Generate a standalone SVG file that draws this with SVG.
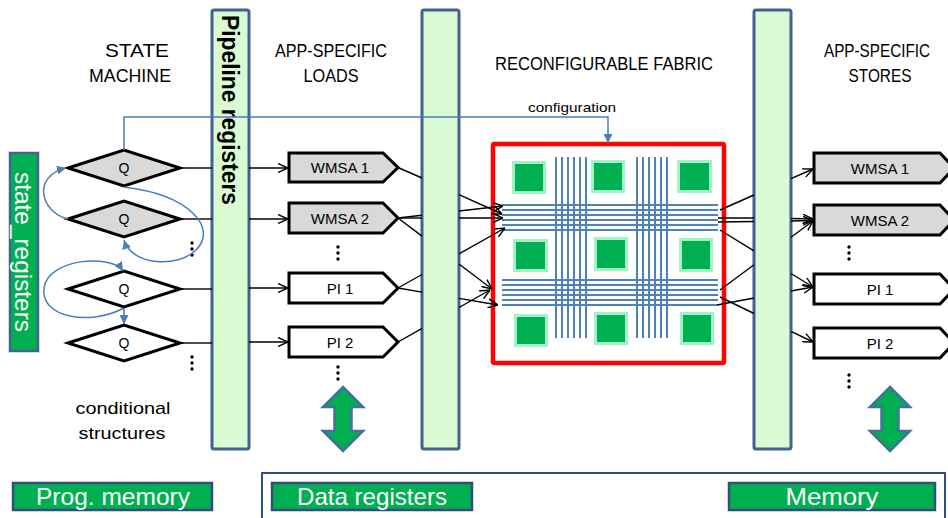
<svg xmlns="http://www.w3.org/2000/svg" width="948" height="518" viewBox="0 0 948 518">
  <style>
    text { font-family: "Liberation Sans", Arial, sans-serif; fill: #000; }
    .head { font-size: 18px; text-anchor: middle; }
    .lbl { font-size: 15px; text-anchor: middle; }
    .q { font-size: 14px; text-anchor: middle; }
    .bar { fill: #d9fad3; stroke: #41638f; stroke-width: 3; }
    .diam { stroke: #000; stroke-width: 3; stroke-linejoin: miter; }
    .gray { fill: #d9d9d9; }
    .white { fill: #fff; }
    .tag { stroke: #000; stroke-width: 3; stroke-linejoin: miter; }
    .wire { stroke: #000; stroke-width: 1.4; fill: none; }
    .warrow { stroke: #000; stroke-width: 1.4; fill: none; marker-end: url(#chev); }
    .blue { stroke: #4a7ebb; stroke-width: 1.5; fill: none; marker-end: url(#tri); }
    .grid line { stroke: #4f81bd; stroke-width: 2; }
    .cellO { fill: #9ff3c6; }
    .cellI { fill: #00b050; }
    .mem { fill: #00b050; stroke: #2f4f80; stroke-width: 2.5; }
    .memtxt { font-size: 24px; fill: #fff; text-anchor: middle; }
    .updown { fill: #00b050; stroke: #41719c; stroke-width: 2.5; stroke-linejoin: miter; }
    .dot { fill: #000; }
  </style>
  <defs>
    <marker id="chev" viewBox="0 0 10 10" refX="10" refY="5" markerWidth="10" markerHeight="10" markerUnits="userSpaceOnUse" orient="auto">
      <path d="M0,0.5 L10,5 L0,9.5" fill="none" stroke="#000" stroke-width="1.4"/>
    </marker>
    <marker id="tri" viewBox="0 0 10 10" refX="10" refY="5" markerWidth="9" markerHeight="9" markerUnits="userSpaceOnUse" orient="auto">
      <path d="M0,0 L10,5 L0,10 Z" fill="#4a7ebb"/>
    </marker>
    <path id="dblArrow" d="M0,-31 L20,-11 L8.5,-11 L8.5,13 L20,13 L0,33 L-20,13 L-8.5,13 L-8.5,-11 L-20,-11 Z"/>
  </defs>

  <!-- column headings -->
  <g id="headings">
    <text class="head" x="137" y="57" textLength="64" lengthAdjust="spacingAndGlyphs">STATE</text>
    <text class="head" x="130" y="82" textLength="82" lengthAdjust="spacingAndGlyphs">MACHINE</text>
    <text class="head" x="331" y="57" textLength="112" lengthAdjust="spacingAndGlyphs">APP-SPECIFIC</text>
    <text class="head" x="331" y="82" textLength="55" lengthAdjust="spacingAndGlyphs">LOADS</text>
    <text class="head" x="604" y="70" textLength="218" lengthAdjust="spacingAndGlyphs">RECONFIGURABLE FABRIC</text>
    <text class="head" x="877" y="57" textLength="106" lengthAdjust="spacingAndGlyphs">APP-SPECIFIC</text>
    <text class="head" x="880" y="82" textLength="63" lengthAdjust="spacingAndGlyphs">STORES</text>
    <text x="572" y="112" font-size="13" text-anchor="middle" textLength="88" lengthAdjust="spacingAndGlyphs">configuration</text>
    <text x="123" y="414" font-size="17" text-anchor="middle" textLength="95" lengthAdjust="spacingAndGlyphs">conditional</text>
    <text x="122" y="439" font-size="17" text-anchor="middle" textLength="87" lengthAdjust="spacingAndGlyphs">structures</text>
  </g>

  <!-- state register bank -->
  <g id="state_registers">
    <rect x="10" y="153" width="28" height="198" fill="#00b050" stroke="#41638f" stroke-width="2.5"/>
    <text transform="translate(15,172) rotate(90)" font-size="24" style="fill:#fff" textLength="160" lengthAdjust="spacingAndGlyphs">state_registers</text>
  </g>

  <!-- state machine: condition diamonds -->
  <g id="state1"><path class="diam gray" d="M68,168 L124,150 L180,168 L124,186 Z"/><text class="q" x="124" y="173">Q</text></g>
  <g id="state2"><path class="diam gray" d="M68,219 L124,201 L180,219 L124,237 Z"/><text class="q" x="124" y="224">Q</text></g>
  <g id="state3"><path class="diam white" d="M68,289 L124,271 L180,289 L124,307 Z"/><text class="q" x="124" y="294">Q</text></g>
  <g id="state4"><path class="diam white" d="M68,343 L124,325 L180,343 L124,361 Z"/><text class="q" x="124" y="348">Q</text></g>
  <g id="state_more">
    <circle class="dot" cx="192" cy="243" r="1.7"/><circle class="dot" cx="192" cy="249" r="1.7"/><circle class="dot" cx="192" cy="255" r="1.7"/>
    <circle class="dot" cx="192" cy="357" r="1.7"/><circle class="dot" cx="192" cy="363" r="1.7"/><circle class="dot" cx="192" cy="369" r="1.7"/>
  </g>

  <!-- reconfigurable fabric -->
  <g id="fabric">
    <rect x="493" y="144" width="231" height="219" fill="#fff" stroke="#ff0000" stroke-width="4.5" rx="1.5"/>
    <g class="grid">
      <line x1="556" y1="157" x2="556" y2="338"/><line x1="562" y1="157" x2="562" y2="338"/>
      <line x1="568" y1="157" x2="568" y2="338"/><line x1="574" y1="157" x2="574" y2="338"/>
      <line x1="580" y1="157" x2="580" y2="338"/><line x1="586" y1="157" x2="586" y2="338"/>
      <line x1="637" y1="157" x2="637" y2="338"/><line x1="643" y1="157" x2="643" y2="338"/>
      <line x1="649" y1="157" x2="649" y2="338"/><line x1="655" y1="157" x2="655" y2="338"/>
      <line x1="661" y1="157" x2="661" y2="338"/><line x1="667" y1="157" x2="667" y2="338"/>
      <line x1="502" y1="205" x2="718" y2="205"/><line x1="502" y1="210" x2="718" y2="210"/>
      <line x1="502" y1="215" x2="718" y2="215"/><line x1="502" y1="220" x2="718" y2="220"/>
      <line x1="502" y1="225" x2="718" y2="225"/><line x1="502" y1="230" x2="718" y2="230"/>
      <line x1="502" y1="280" x2="718" y2="280"/><line x1="502" y1="285" x2="718" y2="285"/>
      <line x1="502" y1="290" x2="718" y2="290"/><line x1="502" y1="295" x2="718" y2="295"/>
      <line x1="502" y1="300" x2="718" y2="300"/><line x1="502" y1="305" x2="718" y2="305"/>
    </g>
    <g id="cells">
      <rect class="cellO" x="512" y="161" width="34" height="33"/><rect class="cellI" x="515" y="164" width="28" height="27"/>
      <rect class="cellO" x="591" y="160" width="34" height="33"/><rect class="cellI" x="594" y="163" width="28" height="27"/>
      <rect class="cellO" x="677" y="160" width="35" height="33"/><rect class="cellI" x="680" y="163" width="29" height="27"/>
      <rect class="cellO" x="513" y="239" width="35" height="33"/><rect class="cellI" x="516" y="242" width="29" height="27"/>
      <rect class="cellO" x="594" y="237" width="34" height="34"/><rect class="cellI" x="597" y="240" width="28" height="28"/>
      <rect class="cellO" x="679" y="238" width="34" height="34"/><rect class="cellI" x="682" y="241" width="28" height="28"/>
      <rect class="cellO" x="514" y="314" width="34" height="33"/><rect class="cellI" x="517" y="317" width="28" height="27"/>
      <rect class="cellO" x="594" y="312" width="34" height="33"/><rect class="cellI" x="597" y="315" width="28" height="27"/>
      <rect class="cellO" x="680" y="312" width="34" height="33"/><rect class="cellI" x="683" y="315" width="28" height="27"/>
    </g>
  </g>

  <!-- pipeline register columns -->
  <g id="pipe1">
    <rect class="bar" x="212" y="10" width="37" height="439" rx="2"/>
    <text transform="translate(222,15) rotate(90)" font-size="23" font-weight="bold" textLength="190" lengthAdjust="spacingAndGlyphs">Pipeline registers</text>
  </g>
  <g id="pipe2"><rect class="bar" x="422" y="10" width="37" height="439" rx="2"/></g>
  <g id="pipe3"><rect class="bar" x="754" y="10" width="37" height="439" rx="2"/></g>

  <!-- app-specific loads -->
  <g id="load_wmsa1"><path class="tag gray" d="M289,153 H383 L398,167.5 L383,182 H289 Z"/><text class="lbl" x="340" y="173">WMSA 1</text></g>
  <g id="load_wmsa2"><path class="tag gray" d="M289,203 H383 L398,218 L383,233 H289 Z"/><text class="lbl" x="340" y="224">WMSA 2</text></g>
  <g id="load_pi1"><path class="tag white" d="M289,273 H383 L398,288 L383,303 H289 Z"/><text class="lbl" x="340" y="294">PI 1</text></g>
  <g id="load_pi2"><path class="tag white" d="M289,327 H383 L398,342 L383,357 H289 Z"/><text class="lbl" x="340" y="348">PI 2</text></g>
  <g id="load_more">
    <circle class="dot" cx="338" cy="247" r="1.7"/><circle class="dot" cx="338" cy="253" r="1.7"/><circle class="dot" cx="338" cy="259" r="1.7"/>
    <circle class="dot" cx="338" cy="367" r="1.7"/><circle class="dot" cx="338" cy="373" r="1.7"/><circle class="dot" cx="338" cy="379" r="1.7"/>
  </g>
  <g id="load_port"><use href="#dblArrow" class="updown" x="343" y="418"/></g>

  <!-- app-specific stores -->
  <g id="store_wmsa1"><path class="tag gray" d="M814,153 H940 L954,168 L940,183 H814 Z"/><text class="lbl" x="880" y="174">WMSA 1</text></g>
  <g id="store_wmsa2"><path class="tag gray" d="M814,205 H940 L954,220 L940,235 H814 Z"/><text class="lbl" x="880" y="226">WMSA 2</text></g>
  <g id="store_pi1"><path class="tag white" d="M814,274 H940 L954,289 L940,304 H814 Z"/><text class="lbl" x="880" y="295">PI 1</text></g>
  <g id="store_pi2"><path class="tag white" d="M814,328 H940 L954,343 L940,358 H814 Z"/><text class="lbl" x="880" y="349">PI 2</text></g>
  <g id="store_more">
    <circle class="dot" cx="849" cy="247" r="1.7"/><circle class="dot" cx="849" cy="253" r="1.7"/><circle class="dot" cx="849" cy="259" r="1.7"/>
    <circle class="dot" cx="849" cy="375" r="1.7"/><circle class="dot" cx="849" cy="381" r="1.7"/><circle class="dot" cx="849" cy="387" r="1.7"/>
  </g>
  <g id="store_port"><use href="#dblArrow" class="updown" x="890" y="418"/></g>

  <!-- memory hierarchy -->
  <g id="prog_memory"><rect class="mem" x="13" y="483" width="199" height="27"/><text class="memtxt" x="113" y="505" textLength="154" lengthAdjust="spacingAndGlyphs">Prog. memory</text></g>
  <g id="data_side"><path d="M262,518 V473 H945 V518" fill="none" stroke="#2f4f80" stroke-width="2"/></g>
  <g id="data_registers"><rect class="mem" x="272" y="483" width="200" height="27"/><text class="memtxt" x="372" y="505" textLength="150" lengthAdjust="spacingAndGlyphs">Data registers</text></g>
  <g id="memory"><rect class="mem" x="729" y="483" width="206" height="27"/><text class="memtxt" x="832" y="505" textLength="93" lengthAdjust="spacingAndGlyphs">Memory</text></g>

  <!-- connectors -->
  <g id="connectors">
    <!-- state outputs into the pipeline registers -->
    <line class="wire" x1="180" y1="168" x2="212" y2="168"/>
    <line class="wire" x1="180" y1="219" x2="212" y2="219"/>
    <line class="wire" x1="180" y1="289" x2="212" y2="289"/>
    <line class="wire" x1="180" y1="343" x2="212" y2="343"/>
    <!-- pipeline registers into loads -->
    <line class="warrow" x1="249" y1="168" x2="288" y2="168"/>
    <line class="warrow" x1="249" y1="219" x2="288" y2="219"/>
    <line class="warrow" x1="249" y1="288" x2="288" y2="288"/>
    <line class="warrow" x1="249" y1="342" x2="288" y2="342"/>
    <!-- loads through pipeline registers into the fabric -->
    <line class="wire" x1="398" y1="167.5" x2="422" y2="178"/><line class="warrow" x1="459" y1="194.6" x2="502" y2="214"/>
    <line class="wire" x1="398" y1="218" x2="422" y2="218"/><line class="warrow" x1="459" y1="218" x2="503" y2="218"/>
    <line class="wire" x1="398" y1="218" x2="422" y2="215.3"/><line class="warrow" x1="459" y1="211" x2="503" y2="206"/>
    <line class="wire" x1="398" y1="218" x2="422" y2="236.1"/><line class="warrow" x1="459" y1="264" x2="492" y2="289"/>
    <line class="wire" x1="398" y1="288" x2="422" y2="274.5"/><line class="warrow" x1="459" y1="253.8" x2="505" y2="228"/>
    <line class="wire" x1="398" y1="288" x2="422" y2="292.1"/><line class="warrow" x1="459" y1="298.4" x2="498" y2="305"/>
    <line class="wire" x1="398" y1="342" x2="422" y2="328.4"/><line class="warrow" x1="459" y1="307.5" x2="490" y2="290"/>
    <!-- fabric through pipeline registers into stores -->
    <line class="wire" x1="720" y1="210" x2="754" y2="195"/><line class="warrow" x1="791" y1="178.7" x2="813" y2="169"/>
    <line class="wire" x1="718" y1="218" x2="754" y2="218"/><line class="warrow" x1="791" y1="218.5" x2="813" y2="219"/>
    <line class="wire" x1="718" y1="222" x2="754" y2="221.5"/><line class="warrow" x1="791" y1="221" x2="813" y2="220.5"/>
    <line class="wire" x1="720" y1="230" x2="754" y2="250.8"/><line class="warrow" x1="791" y1="273.5" x2="813" y2="287"/>
    <line class="wire" x1="720" y1="290" x2="754" y2="264.8"/><line class="warrow" x1="791" y1="237.3" x2="813" y2="221"/>
    <line class="wire" x1="717" y1="305" x2="754" y2="298"/><line class="warrow" x1="791" y1="291" x2="813" y2="287"/>
    <line class="wire" x1="720" y1="297" x2="754" y2="313.5"/><line class="warrow" x1="791" y1="331.4" x2="813" y2="342"/>
    <!-- configuration path -->
    <path class="blue" d="M124,150 V117 H608 V143"/>
    <!-- state transitions -->
    <path class="blue" d="M68,219 C40,212 32,176 66,168"/>
    <path class="blue" d="M124,187 C190,195 218,228 196,250 C178,268 132,266 124,240"/>
    <path class="blue" d="M124,308 C90,326 40,318 44,288 C48,258 112,254 123,271"/>
    <path class="blue" d="M124,308 V324"/>
  </g>
</svg>
